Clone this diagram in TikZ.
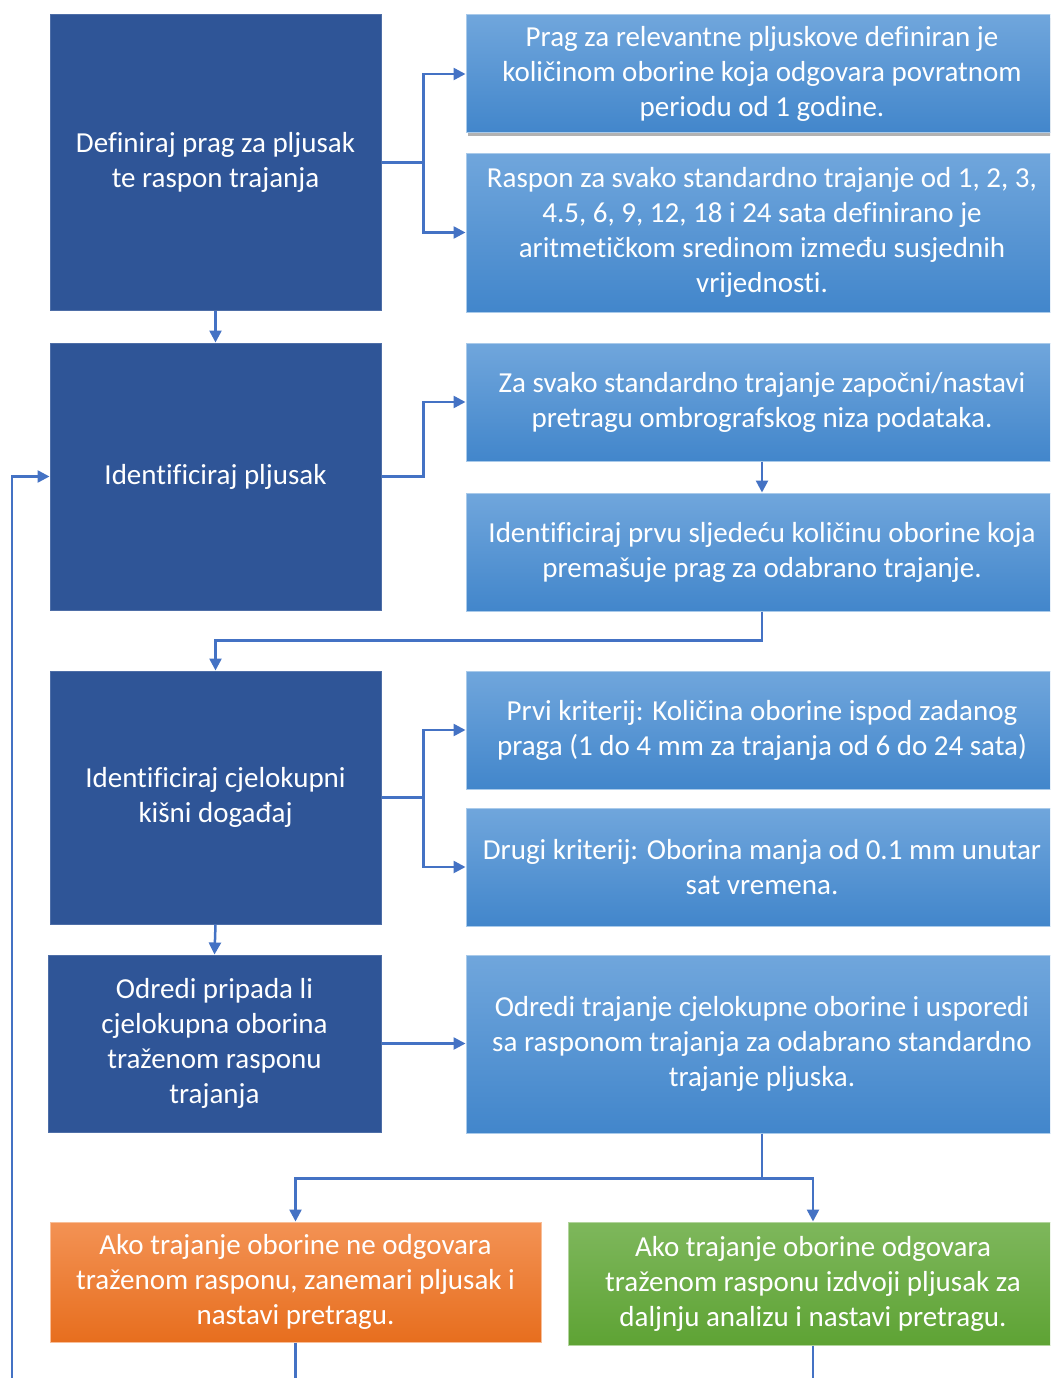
\documentclass[tikz,border=0pt]{standalone}
\usepackage{fontspec}
\setmainfont{Carlito}[RawFeature={-liga}]
\usetikzlibrary{arrows.meta,shadows}
\definecolor{dblue}{RGB}{47,85,151}
\definecolor{ltop}{RGB}{112,166,220}
\definecolor{lbot}{RGB}{66,134,203}
\definecolor{otop}{RGB}{243,146,84}
\definecolor{obot}{RGB}{231,110,30}
\definecolor{gtop}{RGB}{126,183,92}
\definecolor{gbot}{RGB}{94,163,52}
\definecolor{conn}{RGB}{68,114,196}
\tikzset{
  box/.style={inner sep=0pt, align=center, text=white, font=\fontsize{29}{35}\selectfont, line width=1pt},
  dark/.style={box, fill=dblue, draw=dblue!85!white},
  light/.style={box, top color=ltop, bottom color=lbot, draw=ltop!60!white},
  orange/.style={box, top color=otop, bottom color=obot, draw=otop!60!white},
  green/.style={box, top color=gtop, bottom color=gbot, draw=gtop!60!white},
  arr/.style={draw=conn, line width=2.5pt, -{Triangle[length=12pt,width=12pt]}},
  ln/.style={draw=conn, line width=2.5pt}
}
\begin{document}
\begin{tikzpicture}[x=1pt,y=-1pt]
\useasboundingbox (0,0) rectangle (1050,1378);
\clip (0,0) rectangle (1050,1378);
\fill[white] (0,0) rectangle (1050,1378);
% left column
\node[dark, minimum width=331pt, minimum height=295pt] (a1) at (215.5,162.5) {Definiraj prag za pljusak\\te raspon trajanja};
\node[dark, minimum width=331pt, minimum height=267pt] (a2) at (215.5,476.5) {Identificiraj pljusak};
\node[dark, minimum width=331pt, minimum height=253pt] (a3) at (215.5,797.5) {Identificiraj cjelokupni\\kišni događaj};
\node[dark, minimum width=333pt, minimum height=177pt] (a4) at (214.5,1043.5) {Odredi pripada li\\cjelokupna oborina\\traženom rasponu\\trajanja};
% right column
\node[light, minimum width=592pt, minimum height=118pt, drop shadow={shadow xshift=2pt, shadow yshift=-3pt, opacity=0.6}] (b1) at (762,74) {Prag za relevantne pljuskove definiran je\\količinom oborine koja odgovara povratnom\\periodu od 1 godine.};
\node[light, minimum width=592pt, minimum height=159pt] (b2) at (762,232.5) {Raspon za svako standardno trajanje od 1, 2, 3,\\4.5, 6, 9, 12, 18 i 24 sata definirano je\\aritmetičkom sredinom između susjednih\\vrijednosti.};
\node[light, minimum width=592pt, minimum height=118pt] (b3) at (762,402) {Za svako standardno trajanje započni/nastavi\\pretragu ombrografskog niza podataka.};
\node[light, minimum width=592pt, minimum height=118pt] (b4) at (762,552) {Identificiraj prvu sljedeću količinu oborine koja\\premašuje prag za odabrano trajanje.};
\node[light, minimum width=592pt, minimum height=118pt] (b5) at (762,730) {Prvi kriterij: Količina oborine ispod zadanog\\praga (1 do 4 mm za trajanja od 6 do 24 sata)};
\node[light, minimum width=592pt, minimum height=118pt] (b6) at (762,867) {Drugi kriterij: Oborina manja od 0.1 mm unutar\\sat vremena.};
\node[light, minimum width=592pt, minimum height=178pt] (b7) at (762,1044) {Odredi trajanje cjelokupne oborine i usporedi\\sa rasponom trajanja za odabrano standardno\\trajanje pljuska.};
% bottom
\node[orange, minimum width=491pt, minimum height=120pt] (or) at (295.5,1282) {Ako trajanje oborine ne odgovara\\traženom rasponu, zanemari pljusak i\\nastavi pretragu.};
\node[green, minimum width=490pt, minimum height=123pt] (gr) at (813,1283.5) {Ako trajanje oborine odgovara\\traženom rasponu izdvoji pljusak za\\daljnju analizu i nastavi pretragu.};
% free ends
\coordinate (fb) at (12,1385);
\coordinate (orEnd) at (295.5,1385);
\coordinate (grEnd) at (813,1385);
% connectors
\draw[arr] (a1.east) -- ++(42,0) |- (b1.west);
\draw[arr] (a1.east) -- ++(42,0) |- (b2.west);
\draw[arr] (a1.south) -- (a2.north);
\draw[arr] (a2.east) -- ++(42,0) |- (b3.west);
\draw[arr] (b3.south) -- (b4.north);
\draw[arr] (b4.south) -- ++(0,29) -| (a3.north);
\draw[arr] (a3.east) -- ++(42,0) |- (b5.west);
\draw[arr] (a3.east) -- ++(42,0) |- (b6.west);
\draw[arr] (a3.south) -- (a4.north);
\draw[arr] (a4.east) -- (a4.east -| b7.west);
\draw[arr] (b7.south) -- ++(0,45) -| (or.north);
\draw[arr] (b7.south) -- ++(0,45) -| (gr.north);
\draw[ln] (or.south) -- (orEnd);
\draw[ln] (gr.south) -- (grEnd);
\draw[arr] (fb) |- (a2.west);
\end{tikzpicture}
\end{document}
